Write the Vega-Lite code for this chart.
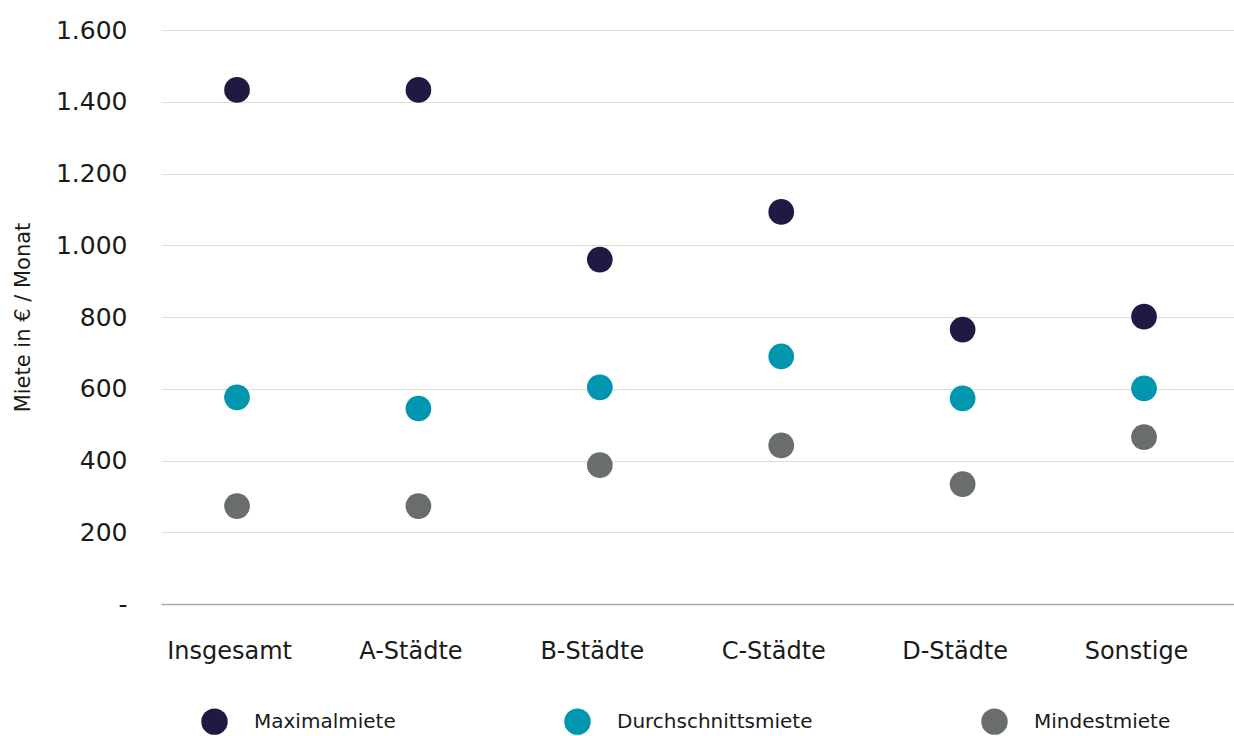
{
  "$schema": "https://vega.github.io/schema/vega-lite/v6.json",
  "autosize": "none",
  "width": 1073,
  "height": 574,
  "padding": {"left": 161, "top": 30, "right": 0, "bottom": 132},
  "background": "white",
  "config": {
    "font": "DejaVu Sans",
    "view": {"stroke": null}
  },
  "data": {
    "values": [
      {"kategorie": "Insgesamt", "serie": "Maximalmiete", "miete": 1433},
      {"kategorie": "A-Städte", "serie": "Maximalmiete", "miete": 1433},
      {"kategorie": "B-Städte", "serie": "Maximalmiete", "miete": 960},
      {"kategorie": "C-Städte", "serie": "Maximalmiete", "miete": 1093},
      {"kategorie": "D-Städte", "serie": "Maximalmiete", "miete": 765},
      {"kategorie": "Sonstige", "serie": "Maximalmiete", "miete": 801},
      {"kategorie": "Insgesamt", "serie": "Durchschnittsmiete", "miete": 576},
      {"kategorie": "A-Städte", "serie": "Durchschnittsmiete", "miete": 545},
      {"kategorie": "B-Städte", "serie": "Durchschnittsmiete", "miete": 604},
      {"kategorie": "C-Städte", "serie": "Durchschnittsmiete", "miete": 690},
      {"kategorie": "D-Städte", "serie": "Durchschnittsmiete", "miete": 573},
      {"kategorie": "Sonstige", "serie": "Durchschnittsmiete", "miete": 601},
      {"kategorie": "Insgesamt", "serie": "Mindestmiete", "miete": 273},
      {"kategorie": "A-Städte", "serie": "Mindestmiete", "miete": 273},
      {"kategorie": "B-Städte", "serie": "Mindestmiete", "miete": 387},
      {"kategorie": "C-Städte", "serie": "Mindestmiete", "miete": 442},
      {"kategorie": "D-Städte", "serie": "Mindestmiete", "miete": 334},
      {"kategorie": "Sonstige", "serie": "Mindestmiete", "miete": 465}
    ]
  },
  "mark": {"type": "circle", "size": 660, "opacity": 1},
  "encoding": {
    "x": {
      "field": "kategorie",
      "type": "nominal",
      "sort": ["Insgesamt", "A-Städte", "B-Städte", "C-Städte", "D-Städte", "Sonstige"],
      "scale": {"type": "point", "padding": 0.4575, "align": 0.458},
      "axis": {
        "title": null,
        "labelAngle": 0,
        "labelFontSize": 24,
        "labelColor": "#1a1a1a",
        "labelPadding": 35,
        "labelOffset": -8,
        "ticks": false,
        "domain": true,
        "domainColor": "#a8a8a8",
        "domainWidth": 1.5,
        "grid": false
      }
    },
    "y": {
      "field": "miete",
      "type": "quantitative",
      "scale": {"domain": [0, 1600]},
      "axis": {
        "title": "Miete in € / Monat",
        "titleFontSize": 21,
        "titleFontWeight": "normal",
        "titleColor": "#1a1a1a",
        "titlePadding": 22,
        "values": [0, 200, 400, 600, 800, 1000, 1200, 1400, 1600],
        "labelExpr": "datum.value == 0 ? '-' : replace(format(datum.value, ','), ',', '.')",
        "labelFontSize": 25,
        "labelColor": "#1a1a1a",
        "labelPadding": 34,
        "ticks": false,
        "domain": false,
        "grid": true,
        "gridColor": "#dcdcdc",
        "gridWidth": 1.2
      }
    },
    "color": {
      "field": "serie",
      "type": "nominal",
      "sort": ["Maximalmiete", "Durchschnittsmiete", "Mindestmiete"],
      "scale": {
        "domain": ["Maximalmiete", "Durchschnittsmiete", "Mindestmiete"],
        "range": ["#1f1a44", "#0096b0", "#6a6d6e"]
      },
      "legend": {
        "title": null,
        "orient": "none",
        "direction": "horizontal",
        "legendX": 40,
        "legendY": 678,
        "symbolType": "circle",
        "symbolSize": 700,
        "symbolStrokeWidth": 0,
        "symbolOpacity": 1,
        "labelFontSize": 20,
        "labelLimit": 400,
        "labelColor": "#1a1a1a",
        "labelOffset": 26,
        "columnPadding": 168
      }
    }
  }
}
